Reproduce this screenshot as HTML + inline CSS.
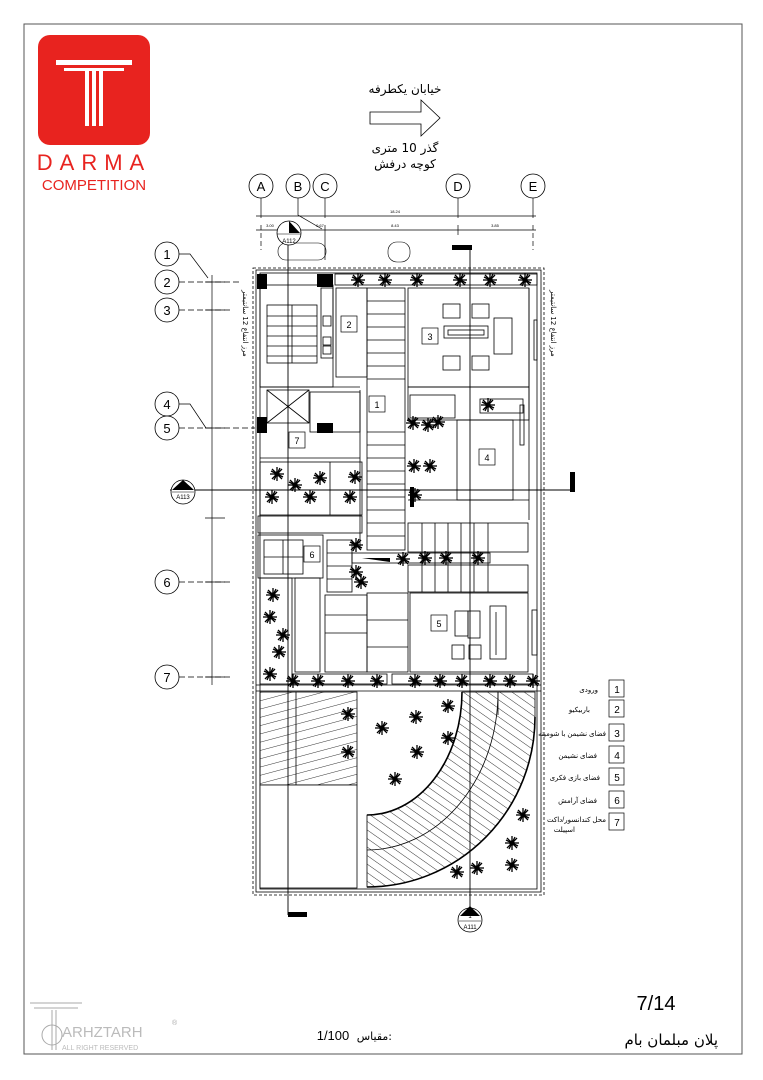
<!DOCTYPE html>
<html><head><meta charset="utf-8"><style>
html,body{margin:0;padding:0;background:#fff}
svg{display:block}
text{font-family:"Liberation Sans","DejaVu Sans",sans-serif}
.fa{font-family:"DejaVu Sans","Liberation Sans",sans-serif}
</style></head><body>
<svg width="763" height="1080" viewBox="0 0 763 1080" xmlns="http://www.w3.org/2000/svg">
<defs>
<g id="t" stroke="#000" stroke-width="1.3">
<line x1="-7" y1="0" x2="7" y2="0"/><line x1="0" y1="-7" x2="0" y2="7"/>
<line x1="-5" y1="-5" x2="5" y2="5"/><line x1="-5" y1="5" x2="5" y2="-5"/>
<line x1="-6" y1="-3" x2="6" y2="3"/><line x1="-3" y1="6" x2="3" y2="-6"/>
<circle r="2" fill="#000"/>
</g>
<pattern id="h1" width="8" height="8" patternUnits="userSpaceOnUse" patternTransform="rotate(-15)"><line x1="0" y1="0" x2="8" y2="0" stroke="#000" stroke-width="0.8"/></pattern>
<pattern id="h2" width="8" height="8" patternUnits="userSpaceOnUse" patternTransform="rotate(15)"><line x1="0" y1="0" x2="8" y2="0" stroke="#000" stroke-width="0.8"/></pattern>
<pattern id="h3" width="7" height="7" patternUnits="userSpaceOnUse" patternTransform="rotate(35)"><line x1="0" y1="0" x2="7" y2="0" stroke="#000" stroke-width="0.8"/></pattern>
</defs>
<rect x="24" y="24" width="718" height="1030" fill="none" stroke="#555" stroke-width="1"/>
<!-- logo -->
<rect x="38" y="35" width="112" height="110" rx="12" fill="#e8231f"/>
<rect x="56" y="60" width="76" height="5" fill="#fff"/>
<rect x="64" y="68" width="60" height="3" fill="#fff"/>
<rect x="85" y="71" width="4" height="55" fill="#fff"/><rect x="92" y="71" width="4" height="55" fill="#fff"/><rect x="99" y="71" width="4" height="55" fill="#fff"/>
<text x="94" y="170" font-size="22" fill="#e8231f" text-anchor="middle" letter-spacing="7">DARMA</text>
<text x="94" y="190" font-size="15" fill="#e8231f" text-anchor="middle">COMPETITION</text>
<!-- arrow -->
<text x="405" y="93" font-size="12" text-anchor="middle" class="fa">خیابان یکطرفه</text>
<path d="M370,112 L421,112 L421,100 L440,118 L421,136 L421,124 L370,124 Z" fill="#fff" stroke="#000" stroke-width="0.8"/>
<text x="405" y="152" font-size="12" text-anchor="middle" class="fa">گذر 10 متری</text>
<text x="405" y="168" font-size="12" text-anchor="middle" class="fa">کوچه درفش</text>
<!-- grid bubbles -->
<g fill="#fff" stroke="#000" stroke-width="0.8" font-size="13">
<circle cx="261" cy="186" r="12"/><circle cx="298" cy="186" r="12"/><circle cx="325" cy="186" r="12"/><circle cx="458" cy="186" r="12"/><circle cx="533" cy="186" r="12"/>
<circle cx="167" cy="254" r="12"/><circle cx="167" cy="282" r="12"/><circle cx="167" cy="310" r="12"/><circle cx="167" cy="404" r="12"/><circle cx="167" cy="428" r="12"/><circle cx="167" cy="582" r="12"/><circle cx="167" cy="677" r="12"/>
</g>
<g font-size="13" text-anchor="middle">
<text x="261" y="191">A</text><text x="298" y="191">B</text><text x="325" y="191">C</text><text x="458" y="191">D</text><text x="533" y="191">E</text>
<text x="167" y="259">1</text><text x="167" y="287">2</text><text x="167" y="315">3</text><text x="167" y="409">4</text><text x="167" y="433">5</text><text x="167" y="587">6</text><text x="167" y="682">7</text>
</g>
<g stroke="#000" stroke-width="0.7" fill="none">
<line x1="261" y1="198" x2="261" y2="218"/><line x1="325" y1="198" x2="325" y2="218"/><line x1="458" y1="198" x2="458" y2="218"/><line x1="533" y1="198" x2="533" y2="218"/>
<polyline points="298,198 298,215 322,229"/>
<line x1="256" y1="216" x2="536" y2="216"/><line x1="256" y1="230" x2="536" y2="230"/>
<line x1="261" y1="225" x2="261" y2="250" stroke-dasharray="5,3"/><line x1="533" y1="225" x2="533" y2="250" stroke-dasharray="5,3"/>
<line x1="458" y1="225" x2="458" y2="235"/><line x1="325" y1="225" x2="325" y2="260"/>
<polyline points="179,254 190,254 208,278"/><line x1="179" y1="282" x2="240" y2="282" stroke-dasharray="6,3"/>
<line x1="179" y1="310" x2="232" y2="310" stroke-dasharray="6,3"/>
<polyline points="179,404 190,404 206,428"/><line x1="179" y1="428" x2="255" y2="428" stroke-dasharray="6,3"/>
<line x1="179" y1="582" x2="232" y2="582" stroke-dasharray="6,3"/><line x1="179" y1="677" x2="232" y2="677" stroke-dasharray="6,3"/>
<line x1="212" y1="275" x2="212" y2="685"/><line x1="205" y1="282" x2="225" y2="282"/><line x1="205" y1="310" x2="225" y2="310"/><line x1="205" y1="428" x2="225" y2="428"/><line x1="205" y1="518" x2="225" y2="518"/><line x1="205" y1="582" x2="225" y2="582"/><line x1="205" y1="677" x2="225" y2="677"/>
</g>
<g font-size="4" text-anchor="middle"><text x="395" y="213">18.24</text><text x="395" y="227">8.43</text><text x="495" y="227">3.85</text><text x="320" y="227">0.67</text><text x="270" y="227">3.00</text></g>
<text transform="translate(243,290) rotate(90)" font-size="7" class="fa">مرز انتفاع 12 سانتیمتر</text>
<text transform="translate(551,290) rotate(90)" font-size="7" class="fa">مرز انتفاع 12 سانتیمتر</text>
<!-- clouds -->
<rect x="278" y="243" width="48" height="17" rx="8" fill="none" stroke="#000" stroke-width="0.6"/>
<rect x="388" y="242" width="22" height="20" rx="9" fill="none" stroke="#000" stroke-width="0.6"/>
<!-- outer plan -->
<g fill="none" stroke="#000" stroke-width="0.8">
<rect x="253" y="268" width="291" height="627" stroke-dasharray="3,2"/>
<rect x="256" y="270" width="285" height="622"/>
<rect x="260" y="273" width="277" height="616"/>
<line x1="256" y1="685" x2="541" y2="685"/><line x1="256" y1="691" x2="541" y2="691"/>
<!-- top strip -->
<rect x="335" y="274" width="202" height="11"/>
<!-- stair block -->
<rect x="260" y="285" width="73" height="102"/><rect x="267" y="305" width="50" height="58"/>
<line x1="267" y1="316" x2="317" y2="316"/><line x1="267" y1="326" x2="317" y2="326"/><line x1="267" y1="336" x2="317" y2="336"/><line x1="267" y1="346" x2="317" y2="346"/><line x1="267" y1="356" x2="317" y2="356"/>
<line x1="292" y1="305" x2="292" y2="363"/>
<rect x="321" y="288" width="12" height="70"/><rect x="323" y="316" width="8" height="10"/><rect x="323" y="337" width="8" height="8"/><rect x="323" y="346" width="8" height="8"/>
<rect x="336" y="288" width="31" height="89"/>
<!-- central stair -->
<rect x="367" y="288" width="38" height="262"/>
<g id="tr"><line x1="367" y1="301" x2="405" y2="301"/><line x1="367" y1="314" x2="405" y2="314"/><line x1="367" y1="327" x2="405" y2="327"/><line x1="367" y1="340" x2="405" y2="340"/><line x1="367" y1="353" x2="405" y2="353"/><line x1="367" y1="366" x2="405" y2="366"/><line x1="367" y1="379" x2="405" y2="379"/></g>
<line x1="367" y1="432" x2="405" y2="432"/><line x1="367" y1="445" x2="405" y2="445"/><line x1="367" y1="458" x2="405" y2="458"/><line x1="367" y1="471" x2="405" y2="471"/><line x1="367" y1="484" x2="405" y2="484"/><line x1="367" y1="497" x2="405" y2="497"/><line x1="367" y1="510" x2="405" y2="510"/><line x1="367" y1="523" x2="405" y2="523"/><line x1="367" y1="536" x2="405" y2="536"/>
<!-- room 3 -->
<rect x="408" y="288" width="121" height="99"/>
<rect x="443" y="304" width="17" height="14"/><rect x="472" y="304" width="17" height="14"/>
<rect x="444" y="326" width="44" height="12"/><rect x="448" y="330" width="36" height="5"/>
<rect x="494" y="318" width="18" height="36"/>
<rect x="443" y="356" width="17" height="14"/><rect x="472" y="356" width="17" height="14"/>
<rect x="408" y="387" width="121" height="33"/>
<rect x="410" y="395" width="45" height="23"/><rect x="480" y="399" width="43" height="14"/>
<!-- room 4 -->
<rect x="457" y="420" width="56" height="80"/>
<line x1="408" y1="500" x2="529" y2="500"/><line x1="529" y1="288" x2="529" y2="520"/>
<rect x="520" y="405" width="4" height="40"/><rect x="534" y="320" width="3" height="40"/>
<!-- elevator -->
<rect x="267" y="390" width="42" height="33"/><line x1="267" y1="390" x2="309" y2="423"/><line x1="309" y1="390" x2="267" y2="423"/>
<line x1="260" y1="387" x2="360" y2="387"/><rect x="310" y="392" width="50" height="40"/>
<line x1="260" y1="458" x2="360" y2="458"/><rect x="260" y="462" width="102" height="53"/><line x1="330" y1="462" x2="330" y2="515"/>
<rect x="258" y="516" width="104" height="17"/>
<line x1="360" y1="390" x2="360" y2="550"/>
<!-- lower -->
<rect x="258" y="535" width="65" height="43"/><rect x="264" y="540" width="39" height="34"/><line x1="283" y1="540" x2="283" y2="574"/><line x1="264" y1="557" x2="303" y2="557"/>
<rect x="327" y="540" width="25" height="52"/><line x1="327" y1="553" x2="352" y2="553"/><line x1="327" y1="566" x2="352" y2="566"/><line x1="327" y1="579" x2="352" y2="579"/>
<rect x="352" y="553" width="138" height="10"/>
<rect x="408" y="523" width="120" height="29"/><rect x="408" y="565" width="120" height="27"/>
<line x1="422" y1="523" x2="422" y2="592"/><line x1="435" y1="523" x2="435" y2="592"/><line x1="448" y1="523" x2="448" y2="592"/><line x1="461" y1="523" x2="461" y2="592"/><line x1="474" y1="523" x2="474" y2="592"/><line x1="488" y1="523" x2="488" y2="592"/>
<rect x="260" y="578" width="32" height="106"/><rect x="295" y="578" width="25" height="94"/>
<rect x="325" y="595" width="42" height="77"/><line x1="325" y1="615" x2="367" y2="615"/><line x1="325" y1="633" x2="367" y2="633"/>
<rect x="367" y="593" width="41" height="79"/><line x1="367" y1="620" x2="408" y2="620"/><line x1="367" y1="647" x2="408" y2="647"/>
<rect x="410" y="593" width="118" height="79"/>
<rect x="455" y="611" width="13" height="25"/><rect x="468" y="611" width="12" height="27"/>
<rect x="490" y="606" width="16" height="53"/><line x1="496" y1="612" x2="496" y2="655"/>
<rect x="452" y="645" width="12" height="14"/><rect x="469" y="645" width="12" height="14"/>
<rect x="532" y="610" width="5" height="45"/>
<rect x="292" y="674" width="95" height="10"/><rect x="392" y="674" width="141" height="10"/>
<!-- garden -->
<rect x="260" y="692" width="97" height="93" fill="url(#h1)"/>
<line x1="296" y1="692" x2="296" y2="785"/>
<rect x="260" y="785" width="97" height="103" fill="#fff"/>
<path d="M462,692 A95,123 0 0 1 367,815 L367,887 A168,170 0 0 0 535,717 L535,692 Z" fill="url(#h3)"/>
<path d="M462,692 A95,123 0 0 1 367,815" stroke-width="1.6"/>
<path d="M498,692 A131,158 0 0 1 367,850"/>
<path d="M535,717 A168,170 0 0 1 367,887" stroke-width="1.6"/>
<line x1="498" y1="692" x2="498" y2="715"/>
</g>
<!-- black columns -->
<g fill="#000">
<rect x="257" y="274" width="10" height="15"/><rect x="317" y="274" width="16" height="13"/>
<rect x="257" y="417" width="10" height="16"/><rect x="317" y="423" width="16" height="10"/>
<rect x="288" y="912" width="19" height="5"/><rect x="452" y="245" width="20" height="5"/><rect x="570" y="472" width="5" height="20"/>
<rect x="410" y="487" width="4" height="20"/><path d="M362,558 L390,558 L390,562 Z"/>
</g>
<!-- labels -->
<g fill="#fff" stroke="#000" stroke-width="0.7"><rect x="341" y="316" width="16" height="16"/><rect x="422" y="328" width="16" height="16"/><rect x="369" y="396" width="16" height="16"/><rect x="479" y="449" width="16" height="16"/><rect x="289" y="432" width="16" height="16"/><rect x="304" y="546" width="16" height="16"/><rect x="431" y="615" width="16" height="16"/></g>
<g font-size="9" text-anchor="middle"><text x="349" y="328">2</text><text x="430" y="340">3</text><text x="377" y="408">1</text><text x="487" y="461">4</text><text x="297" y="444">7</text><text x="312" y="558">6</text><text x="439" y="627">5</text></g>
<!-- section lines -->
<g stroke="#000" stroke-width="0.9"><line x1="288" y1="228" x2="288" y2="915"/><line x1="470" y1="250" x2="470" y2="910"/><line x1="170" y1="490" x2="572" y2="490"/></g>
<g stroke="#000" stroke-width="0.8" fill="#fff">
<circle cx="289" cy="233" r="12"/><circle cx="183" cy="492" r="12"/><circle cx="470" cy="920" r="12"/>
</g>
<path d="M289,221 L300,233 L289,233Z M172,490 L183,480 L194,490Z M460,916 L470,906 L480,916Z" fill="#000"/>
<g font-size="6" text-anchor="middle"><text x="289" y="243">A112</text><text x="183" y="488">1</text><text x="183" y="499">A113</text><text x="470" y="918">1</text><text x="470" y="929">A111</text></g>
<line x1="277" y1="234" x2="301" y2="234" stroke="#000" stroke-width="0.6"/><line x1="172" y1="492" x2="194" y2="492" stroke="#000" stroke-width="0.6"/><line x1="459" y1="921" x2="481" y2="921" stroke="#000" stroke-width="0.6"/>
<!-- trees -->
<g>
<use href="#t" x="358" y="280"/><use href="#t" x="385" y="280"/><use href="#t" x="417" y="280"/><use href="#t" x="460" y="280"/><use href="#t" x="490" y="280"/><use href="#t" x="525" y="280"/>
<use href="#t" x="488" y="405"/><use href="#t" x="413" y="423"/><use href="#t" x="428" y="425"/><use href="#t" x="438" y="422"/><use href="#t" x="414" y="466"/><use href="#t" x="430" y="466"/><use href="#t" x="415" y="495"/>
<use href="#t" x="277" y="474"/><use href="#t" x="295" y="485"/><use href="#t" x="320" y="478"/><use href="#t" x="272" y="497"/><use href="#t" x="310" y="497"/><use href="#t" x="355" y="477"/><use href="#t" x="350" y="497"/>
<use href="#t" x="356" y="545"/><use href="#t" x="356" y="572"/><use href="#t" x="361" y="582"/><use href="#t" x="403" y="559"/><use href="#t" x="425" y="558"/><use href="#t" x="446" y="558"/><use href="#t" x="478" y="558"/>
<use href="#t" x="273" y="595"/><use href="#t" x="270" y="617"/><use href="#t" x="283" y="635"/><use href="#t" x="279" y="652"/><use href="#t" x="270" y="674"/>
<use href="#t" x="293" y="681"/><use href="#t" x="318" y="681"/><use href="#t" x="348" y="681"/><use href="#t" x="377" y="681"/><use href="#t" x="415" y="681"/><use href="#t" x="440" y="681"/><use href="#t" x="462" y="681"/><use href="#t" x="490" y="681"/><use href="#t" x="510" y="681"/><use href="#t" x="533" y="681"/>
<use href="#t" x="348" y="714"/><use href="#t" x="382" y="728"/><use href="#t" x="416" y="717"/><use href="#t" x="448" y="706"/><use href="#t" x="448" y="738"/><use href="#t" x="417" y="752"/><use href="#t" x="348" y="752"/><use href="#t" x="395" y="779"/>
<use href="#t" x="523" y="815"/><use href="#t" x="512" y="843"/><use href="#t" x="512" y="865"/><use href="#t" x="457" y="872"/><use href="#t" x="477" y="868"/>
</g>
<!-- legend -->
<g fill="#fff" stroke="#000" stroke-width="0.7">
<rect x="609" y="680" width="15" height="17"/><rect x="609" y="700" width="15" height="17"/><rect x="609" y="724" width="15" height="17"/><rect x="609" y="746" width="15" height="17"/><rect x="609" y="768" width="15" height="17"/><rect x="609" y="791" width="15" height="17"/><rect x="609" y="813" width="15" height="17"/>
</g>
<g font-size="10" text-anchor="middle"><text x="617" y="693">1</text><text x="617" y="713">2</text><text x="617" y="737">3</text><text x="617" y="759">4</text><text x="617" y="781">5</text><text x="617" y="804">6</text><text x="617" y="826">7</text></g>
<g font-size="7" text-anchor="end" class="fa">
<text x="598" y="692">ورودی</text><text x="590" y="712">باربیکیو</text><text x="606" y="736">فضای نشیمن با شومینه</text><text x="597" y="758">فضای نشیمن</text><text x="600" y="780">فضای بازی فکری</text><text x="597" y="803">فضای آرامش</text><text x="606" y="822">محل کندانسور/داکت</text><text x="575" y="832">اسپیلت</text>
</g>
<!-- footer -->
<text x="656" y="1010" font-size="20" text-anchor="middle">7/14</text>
<text x="718" y="1045" font-size="15" text-anchor="end" class="fa">پلان مبلمان بام</text>
<text x="333" y="1040" font-size="13" text-anchor="middle">1/100</text>
<text x="392" y="1040" font-size="11" text-anchor="end" class="fa">مقیاس:</text>
<g stroke="#aaa" fill="none" stroke-width="1"><line x1="30" y1="1003" x2="82" y2="1003"/><line x1="34" y1="1008" x2="78" y2="1008"/><line x1="52" y1="1010" x2="52" y2="1050"/><line x1="56" y1="1010" x2="56" y2="1050"/><circle cx="52" cy="1035" r="10"/></g>
<text x="62" y="1037" font-size="15" fill="#bbb">ARHZTARH</text>
<text x="62" y="1050" font-size="7" fill="#bbb">ALL RIGHT RESERVED</text>
<text x="172" y="1025" font-size="7" fill="#aaa">®</text>
</svg>
</body></html>
